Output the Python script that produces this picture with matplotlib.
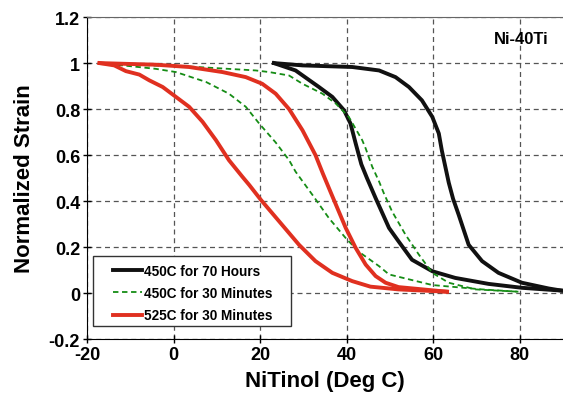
import matplotlib
matplotlib.use("Agg")
import matplotlib.pyplot as plt
from matplotlib.patches import Rectangle

plt.rcParams['font.family'] = ['Liberation Sans', 'DejaVu Sans']
plt.rcParams['font.weight'] = 'bold'
plt.rcParams['axes.unicode_minus'] = False

# 450C for 70 Hours (cooling / heating branches)
b70_lo_x = [23.2, 28.2, 33.6, 36.7, 39.4, 40.9, 42.1, 43.4, 44.7, 46.7, 49.8, 52, 55.1, 59.8, 65.1, 72.8, 80.5, 89.6]
b70_lo_y = [1.0, 0.968, 0.896, 0.853, 0.795, 0.737, 0.65, 0.56, 0.5, 0.413, 0.283, 0.225, 0.145, 0.095, 0.066, 0.04, 0.023, 0.011]
b70_hi_x = [23.2, 29.8, 41.3, 47.5, 51.3, 54.4, 57.4, 59.8, 61.3, 62.0, 62.8, 63.6, 64.6, 65.9, 68.2, 71.3, 75.1, 80.5, 86.7, 89.6]
b70_hi_y = [1.0, 0.99, 0.983, 0.968, 0.939, 0.896, 0.838, 0.766, 0.694, 0.62, 0.55, 0.48, 0.41, 0.34, 0.21, 0.139, 0.088, 0.045, 0.02, 0.011]

# 450C for 30 Minutes
g30_lo_x = [-17.1, -10.2, -4.1, 0.55, 7.5, 12.8, 16.7, 19.8, 23.6, 26.7, 28.2, 32.1, 35.9, 39.8, 42.8, 47.5, 49.8, 59.8, 71.3, 79.7]
g30_lo_y = [1.0, 0.987, 0.975, 0.961, 0.918, 0.867, 0.81, 0.737, 0.655, 0.578, 0.528, 0.427, 0.326, 0.239, 0.18, 0.117, 0.081, 0.035, 0.016, 0.006]
g30_hi_x = [-17.1, -11.8, 3.6, 19.0, 22.1, 26.7, 29.8, 34.4, 37.5, 40.5, 43.6, 44.4, 45.9, 47.5, 48.6, 50.5, 53.6, 56.7, 59.8, 63.6, 69.8, 79.7]
g30_hi_y = [1.0, 0.993, 0.985, 0.968, 0.961, 0.946, 0.91, 0.867, 0.824, 0.766, 0.665, 0.629, 0.55, 0.485, 0.434, 0.355, 0.254, 0.167, 0.088, 0.045, 0.016, 0.006]

# 525C for 30 Minutes
r30_lo_x = [-17.1, -13.7, -11, -7.9, -5.6, -2.5, 0.55, 3.6, 6.7, 9.8, 12.8, 15.9, 17.5, 20.2, 24.4, 29, 32.8, 36.7, 41.3, 45.5, 52, 63.2]
r30_lo_y = [1.0, 0.99, 0.965, 0.95, 0.925, 0.896, 0.853, 0.81, 0.745, 0.665, 0.578, 0.506, 0.47, 0.405, 0.312, 0.21, 0.139, 0.088, 0.052, 0.028, 0.016, 0.006]
r30_hi_x = [-17.1, -4.1, 3.6, 11.3, 16.7, 20.5, 23.6, 26.7, 29.8, 32.8, 34.5, 36.5, 39.8, 42.1, 44.4, 46.7, 49, 52, 63.2]
r30_hi_y = [1.0, 0.993, 0.983, 0.961, 0.939, 0.91, 0.867, 0.8, 0.708, 0.6, 0.52, 0.43, 0.283, 0.196, 0.124, 0.074, 0.045, 0.026, 0.006]

xticks = [-20, 0, 20, 40, 60, 80]
yticks = [-0.2, 0, 0.2, 0.4, 0.6, 0.8, 1, 1.2]
ytick_labels = ['-0.2', '0', '0.2', '0.4', '0.6', '0.8', '1', '1.2']

fig = plt.figure(figsize=(5.63, 4.02), dpi=100)
ax = fig.add_axes([0.1545, 0.154, 0.8455, 0.801])

black = '#111111'
green = '#158c15'
red = '#e03020'

ax.plot(b70_lo_x, b70_lo_y, color=black, lw=2.8, label='450C for 70 Hours')
ax.plot(b70_hi_x, b70_hi_y, color=black, lw=2.8)
ax.plot(g30_lo_x, g30_lo_y, color=green, lw=1.3, ls=(0, (3, 2)), label='450C for 30 Minutes')
ax.plot(g30_hi_x, g30_hi_y, color=green, lw=1.3, ls=(0, (3, 2)))
ax.plot(r30_lo_x, r30_lo_y, color=red, lw=2.8, label='525C for 30 Minutes')
ax.plot(r30_hi_x, r30_hi_y, color=red, lw=2.8)

ax.set_xlim(-20, 90)
ax.set_ylim(-0.2, 1.2)
ax.set_xticks(xticks)
ax.set_yticks(yticks)
ax.set_yticklabels(ytick_labels)
ax.tick_params(direction='inout', length=6, width=1, labelsize=13, pad=2)
ax.grid(True, ls=(0, (4, 3)), color='#555555', lw=0.9)
ax.spines['right'].set_visible(False)
ax.spines['top'].set_color('#666666')

ax.set_xlabel('NiTinol (Deg C)', fontsize=16, fontweight='bold', labelpad=5)
ax.set_ylabel('Normalized Strain', fontsize=16, fontweight='bold', labelpad=10)
ax.text(0.97, 0.935, 'Ni-40Ti', transform=ax.transAxes, ha='right', va='center',
        fontsize=12, fontweight='bold')

# legend box drawn separately so it can be wider than the entries
ax.add_patch(Rectangle((0.0126, 0.040), 0.416, 0.217, transform=ax.transAxes,
                       facecolor='white', edgecolor='#333333', lw=1.0, zorder=4))
leg = ax.legend(loc='lower left', bbox_to_anchor=(0.0546, 0.052), fontsize=9.8,
                frameon=False, handlelength=2.13, handletextpad=0.15,
                borderpad=0, labelspacing=0.6, borderaxespad=0)
leg.set_zorder(5)
for t in leg.get_texts():
    t.set_fontweight('bold')

fig.savefig('out.png', dpi=100)
